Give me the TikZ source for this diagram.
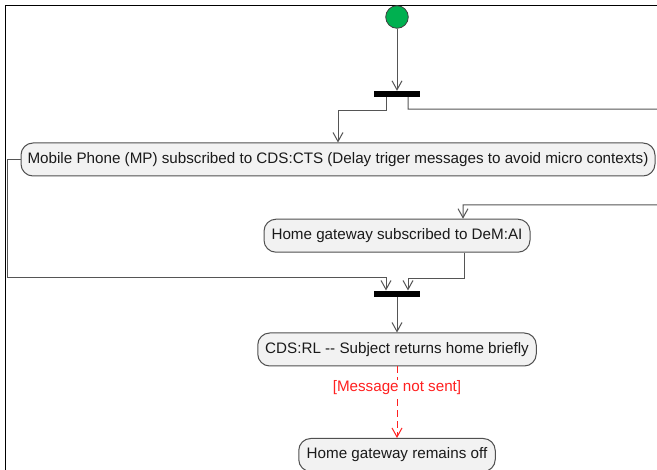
\documentclass[tikz,border=0pt]{standalone}
\usepackage{fontspec}
\setmainfont{Liberation Sans}
\usetikzlibrary{arrows.meta,calc}
\definecolor{linegray}{HTML}{555555}
\definecolor{nodefill}{HTML}{F2F2F2}
\definecolor{nodeline}{HTML}{505050}
\definecolor{startgreen}{HTML}{00B050}
\definecolor{guardred}{HTML}{FF2020}
\definecolor{textdark}{HTML}{1A1A1A}
\begin{document}
\begin{tikzpicture}[x=1pt,y=-1pt,
  action/.style={draw=nodeline,fill=nodefill,line width=1pt,rounded corners=12pt,
    minimum height=33pt,inner sep=0pt,font=\fontsize{15.2}{18}\selectfont,text=textdark},
  syncbar/.style={fill=black,draw=none,minimum width=46.5pt,minimum height=6pt,inner sep=0pt},
  flow/.style={draw=linegray,line width=1pt,
    -{Straight Barb[length=9pt,width=10pt,line width=1pt]}},
  guard/.style={draw=guardred,line width=1pt,dash pattern=on 7pt off 4pt,
    -{Straight Barb[length=9pt,width=10pt,line width=1pt,sep=0pt]}},
  guardlabel/.style={fill=white,text=guardred,inner sep=1pt,font=\fontsize{15.2}{18}\selectfont}]
\useasboundingbox (0,0) rectangle (657,470);
\clip (0,0) rectangle (657,470);
\fill[white] (0,0) rectangle (657,470);
% frame
\draw[black,line width=1.2pt] (5.5,520) -- (5.5,5.3) -- (720,5.3);
% nodes
\node[circle,fill=startgreen,draw=black!75,line width=0.8pt,minimum size=22.6pt,inner sep=0pt] (start) at (397,17) {};
\node[syncbar] (fork) at (397,94) {};
\node[action,minimum width=634pt] (n1) at (338,159.5) {Mobile Phone (MP) subscribed to CDS:CTS (Delay triger messages to avoid micro contexts)};
\node[action,minimum width=266pt] (n2) at (397,235.7) {Home gateway subscribed to DeM:AI};
\node[syncbar] (join) at (397,293.7) {};
\node[action,minimum width=278.5pt] (n3) at (397,349.5) {CDS:RL -{}- Subject returns home briefly};
\node[action,minimum width=196.5pt] (n4) at (397,455) {Home gateway remains off};
% connectors
\draw[flow] (start) -- (fork);
\draw[flow] ([xshift=-11pt]fork.south) -- ++(0,13) -| (n1.north);
\draw[flow] ([xshift=11pt]fork.south) -- ++(0,12) -- (720,109) -- (720,205) -| ([xshift=66pt]n2.north);
\draw[flow] (n1.west) -| (7.5,277.5) -| ([xshift=-11pt]join.north);
\draw[flow] ([xshift=67pt]n2.south) -- ++(0,26) -| ([xshift=11pt]join.north);
\draw[flow] (join) -- (n3);
\draw[guard] (n3) -- node[guardlabel,pos=0.3] (g) {[Message not sent]} (n4);
\end{tikzpicture}
\end{document}
